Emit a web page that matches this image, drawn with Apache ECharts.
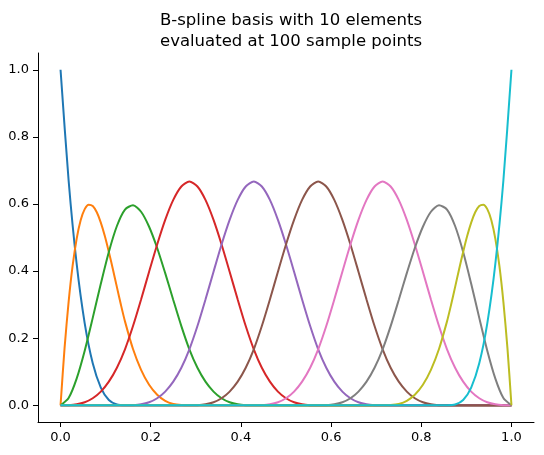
<!DOCTYPE html>
<html>
<head>
<meta charset="utf-8">
<script src="https://cdn.jsdelivr.net/npm/echarts@6/dist/echarts.min.js"></script>
<style>
html,body{margin:0;padding:0;background:#fff;}
#chart{width:544px;height:455px;}
</style>
</head>
<body>
<div id="chart"></div>
<script>
// Sample positions along x
var xs = [0,0.0179,0.0357,0.0536,0.0714,0.0893,0.1071,0.1250,0.1429,0.1607,0.1786,0.1964,0.2143,0.2321,0.2500,0.2679,0.2857,0.3036,0.3214,0.3393,0.3571,0.3750,0.3929,0.4107,0.4286,0.4464,0.4643,0.4821,0.5,0.5179,0.5357,0.5536,0.5714,0.5893,0.6071,0.6250,0.6429,0.6607,0.6786,0.6964,0.7143,0.7321,0.75,0.7679,0.7857,0.8036,0.8214,0.8393,0.8571,0.875,0.8929,0.9107,0.9286,0.9464,0.9643,0.9821,1];
// Finer sample positions for the two narrow edge elements
var xs1 = [0,0.0089,0.0179,0.0268,0.0357,0.0446,0.0536,0.0625,0.0714,0.0804,0.0893,0.0982,0.1071,0.1161,0.1250,0.1339,0.1429,0.1607,0.1786,0.1964,0.2143,0.2321,0.2500,0.2679,0.2857,1];
var xs8 = [0,0.7143,0.7321,0.75,0.7679,0.7857,0.8036,0.8214,0.8393,0.8571,0.8661,0.8750,0.8839,0.8929,0.9018,0.9107,0.9196,0.9286,0.9375,0.9464,0.9554,0.9643,0.9732,0.9821,0.9911,1];

// Basis element values at those positions
var b0 = [1,0.6699,0.4219,0.2441,0.1250,0.0527,0.0156,0.0020,0, 0,0,0,0,0,0,0,0, 0,0,0,0,0,0,0,0, 0,0,0,0,0,0,0,0, 0,0,0,0,0,0,0,0, 0,0,0,0,0,0,0,0, 0,0,0,0,0,0,0,0];
var b1 = [0,0.1703,0.3081,0.4158,0.4961,0.5515,0.5845,0.5977,0.5938,0.5751,0.5444,0.5042,0.4570,0.4055,0.3521,0.2994,0.2500, 0.1675,0.1055,0.0610,0.0313,0.0132,0.0039,0.0005,0, 0];
var b2 = [0,0.0216,0.0794,0.1626,0.2604,0.3621,0.4570,0.5343,0.5833, 0.5962,0.5768,0.5321,0.4688,0.3937,0.3138,0.2358,0.1667, 0.1117,0.0703,0.0407,0.0208,0.0088,0.0026,0.0003,0, 0,0,0,0,0,0,0,0, 0,0,0,0,0,0,0,0, 0,0,0,0,0,0,0,0, 0,0,0,0,0,0,0,0];
var b3 = [0,0.0003,0.0026,0.0088,0.0208,0.0407,0.0703,0.1117,0.1667, 0.2360,0.3151,0.3981,0.4792,0.5524,0.6120,0.6520,0.6667, 0.6520,0.6120,0.5524,0.4792,0.3981,0.3151,0.2360,0.1667, 0.1117,0.0703,0.0407,0.0208,0.0088,0.0026,0.0003,0, 0,0,0,0,0,0,0,0, 0,0,0,0,0,0,0,0, 0,0,0,0,0,0,0,0];
var b4 = [0,0,0,0,0,0,0,0, 0,0.0003,0.0026,0.0088,0.0208,0.0407,0.0703,0.1117,0.1667, 0.2360,0.3151,0.3981,0.4792,0.5524,0.6120,0.6520,0.6667, 0.6520,0.6120,0.5524,0.4792,0.3981,0.3151,0.2360,0.1667, 0.1117,0.0703,0.0407,0.0208,0.0088,0.0026,0.0003,0, 0,0,0,0,0,0,0,0, 0,0,0,0,0,0,0,0];
var b5 = [0,0,0,0,0,0,0,0, 0,0,0,0,0,0,0,0, 0,0.0003,0.0026,0.0088,0.0208,0.0407,0.0703,0.1117,0.1667, 0.2360,0.3151,0.3981,0.4792,0.5524,0.6120,0.6520,0.6667, 0.6520,0.6120,0.5524,0.4792,0.3981,0.3151,0.2360,0.1667, 0.1117,0.0703,0.0407,0.0208,0.0088,0.0026,0.0003,0, 0,0,0,0,0,0,0,0];
var b6 = [0,0,0,0,0,0,0,0, 0,0,0,0,0,0,0,0, 0,0,0,0,0,0,0,0, 0,0.0003,0.0026,0.0088,0.0208,0.0407,0.0703,0.1117,0.1667, 0.2360,0.3151,0.3981,0.4792,0.5524,0.6120,0.6520,0.6667, 0.6520,0.6120,0.5524,0.4792,0.3981,0.3151,0.2360,0.1667, 0.1117,0.0703,0.0407,0.0208,0.0088,0.0026,0.0003,0];
var b7 = [0,0,0,0,0,0,0,0, 0,0,0,0,0,0,0,0, 0,0,0,0,0,0,0,0, 0,0,0,0,0,0,0,0, 0,0.0003,0.0026,0.0088,0.0208,0.0407,0.0703,0.1117,0.1667, 0.2358,0.3138,0.3937,0.4688,0.5321,0.5768,0.5962,0.5833, 0.5343,0.4570,0.3621,0.2604,0.1626,0.0794,0.0216,0];
var b8 = [0, 0,0.0005,0.0039,0.0132,0.0313,0.0610,0.1055,0.1675, 0.2500,0.2994,0.3521,0.4055,0.4570,0.5042,0.5444,0.5751,0.5938,0.5977,0.5845,0.5515,0.4961,0.4158,0.3081,0.1703,0];
var b9 = [0,0,0,0,0,0,0,0, 0,0,0,0,0,0,0,0, 0,0,0,0,0,0,0,0, 0,0,0,0,0,0,0,0, 0,0,0,0,0,0,0,0, 0,0,0,0,0,0,0,0, 0,0.0020,0.0156,0.0527,0.1250,0.2441,0.4219,0.6699,1];

var basis = [b0,b1,b2,b3,b4,b5,b6,b7,b8,b9];
var basisX = [xs,xs1,xs,xs,xs,xs,xs,xs,xs8,xs];
var colors = ['#1f77b4','#ff7f0e','#2ca02c','#d62728','#9467bd','#8c564b','#e377c2','#7f7f7f','#bcbd22','#17becf'];
var xTicks = [0,0.2,0.4,0.6,0.8,1.0];
var yTicks = [0,0.2,0.4,0.6,0.8,1.0];
var titleText = 'B-spline basis with 10 elements\nevaluated at 100 sample points';

var font = 'DejaVu Sans';
var series = basis.map(function(vals, i){
  var xx = basisX[i];
  return {
    type: 'line',
    data: xx.map(function(x, j){ return [x, vals[j]]; }),
    showSymbol: false,
    smooth: 0.25,
    lineStyle: {color: colors[i], width: 2},
    itemStyle: {color: colors[i]},
    animation: false,
    z: 2 + i
  };
});

var chart = echarts.init(document.getElementById('chart'), null, {renderer: 'canvas'});
chart.setOption({
  animation: false,
  backgroundColor: '#fff',
  title: {
    text: titleText,
    left: 286, top: 5, textAlign: 'center',
    textStyle: {fontFamily: font, fontSize: 16.5, fontWeight: 'normal', color: '#000', lineHeight: 21}
  },
  grid: {left: 38, right: 10, top: 53, bottom: 33, containLabel: false},
  xAxis: {
    type: 'value', min: -0.05, max: 1.05,
    axisLine: {show: true, onZero: false, lineStyle: {color: '#000', width: 1}},
    axisTick: {show: true, customValues: xTicks, length: 5, inside: false, lineStyle: {color: '#000'}},
    axisLabel: {customValues: xTicks, fontFamily: font, fontSize: 13, color: '#000', margin: 9,
      formatter: function(v){ return v.toFixed(1); }},
    splitLine: {show: false}
  },
  yAxis: {
    type: 'value', min: -0.05, max: 1.05,
    axisLine: {show: true, onZero: false, lineStyle: {color: '#000', width: 1}},
    axisTick: {show: true, customValues: yTicks, length: 5, inside: false, lineStyle: {color: '#000'}},
    axisLabel: {customValues: yTicks, fontFamily: font, fontSize: 13, color: '#000', margin: 9,
      formatter: function(v){ return v.toFixed(1); }},
    splitLine: {show: false}
  },
  series: series
});
</script>
</body>
</html>
